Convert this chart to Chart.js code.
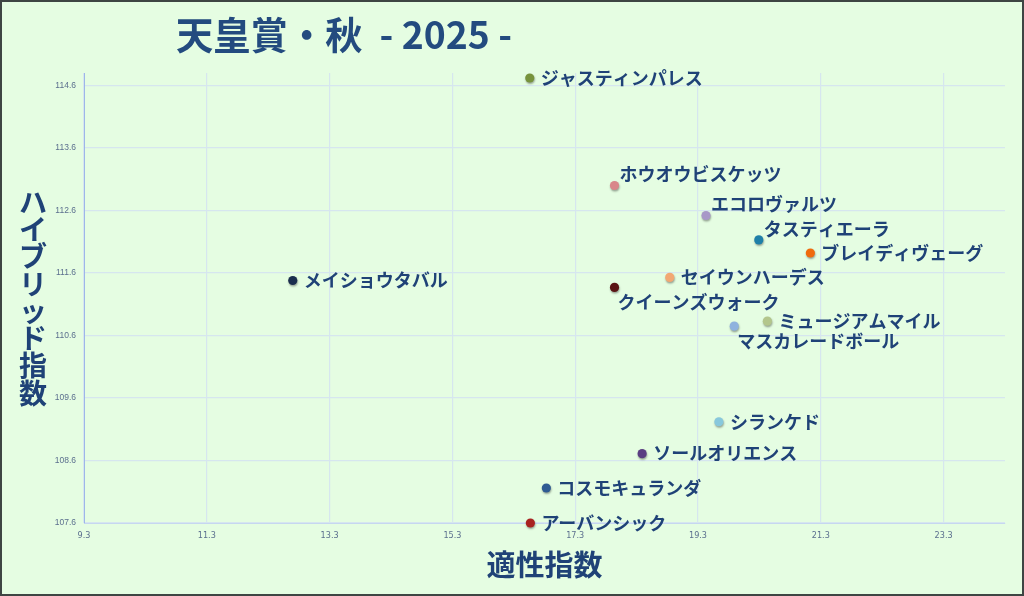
<!DOCTYPE html>
<html>
<head>
<meta charset="utf-8">
<script src="https://cdn.jsdelivr.net/npm/chart.js@4"></script>
<style>
html,body{margin:0;padding:0;background:#E5FDE2;}
#wrap{width:1024px;height:596px;position:relative;}
canvas{display:block;}
</style>
</head>
<body>
<div id="wrap"><canvas id="c" width="1024" height="596"></canvas></div>
<script>
// ---- data ----
const horses = ['ジャスティンパレス','ホウオウビスケッツ','エコロヴァルツ','タスティエーラ','ブレイディヴェーグ','セイウンハーデス','クイーンズウォーク','ミュージアムマイル','マスカレードボール','メイショウタバル','シランケド','ソールオリエンス','コスモキュランダ','アーバンシック'];
const suitabilityIndex = [16.56, 17.94, 19.43, 20.29, 21.13, 18.84, 17.94, 20.43, 19.89, 12.70, 19.64, 18.39, 16.83, 16.57];
const hybridIndex = [114.72, 113.00, 112.52, 112.13, 111.92, 111.53, 111.37, 110.83, 110.75, 111.48, 109.22, 108.71, 108.16, 107.60];
const xTickValues = [9.3, 11.3, 13.3, 15.3, 17.3, 19.3, 21.3, 23.3];
const yTickValues = [107.6, 108.6, 109.6, 110.6, 111.6, 112.6, 113.6, 114.6];
const chartTitle = '天皇賞・秋  - 2025 -';
const xAxisTitle = '適性指数';
const yAxisTitle = 'ハイブリッド指数';

// ---- styles ----
const pointColors = ['#77933C','#D9878A','#A898C8','#1F80A8','#F06A0C','#F2A873','#5A1414','#B3C68C','#8FB2DE','#1A2D4E','#88C8DC','#5A3E82','#2F5B93','#A82220'];
const labelPlacement = {'ホウオウビスケッツ':'above','エコロヴァルツ':'above','タスティエーラ':'above','クイーンズウォーク':'below','マスカレードボール':'below'};
const textColor = '#1F4277';

const points = suitabilityIndex.map((x,i)=>({x:x, y:hybridIndex[i]}));

const decorPlugin = {
  id:'decor',
  beforeDraw(chart){
    const ctx = chart.ctx;
    ctx.save();
    ctx.fillStyle = '#E5FDE2';
    ctx.fillRect(0,0,chart.width,chart.height);
    ctx.restore();
  },
  beforeDatasetsDraw(chart){
    chart.ctx.save();
    chart.ctx.shadowColor = 'rgba(0,0,0,0.35)';
    chart.ctx.shadowBlur = 2;
    chart.ctx.shadowOffsetX = 0.5;
    chart.ctx.shadowOffsetY = 1.5;
  },
  afterDatasetsDraw(chart){
    chart.ctx.restore();
    const ctx = chart.ctx;
    const meta = chart.getDatasetMeta(0);
    ctx.save();
    ctx.font = 'bold 18px "Noto Sans CJK JP", sans-serif';
    ctx.fillStyle = textColor;
    ctx.textBaseline = 'middle';
    ctx.textAlign = 'left';
    meta.data.forEach((el,i)=>{
      const name = horses[i];
      const p = labelPlacement[name] || 'right';
      let x = el.x, y = el.y;
      if (p === 'right') { x += 11; }
      else if (p === 'above') { x += 5; y -= 11; }
      else { x += 3; y += 15; }
      ctx.fillText(name, x, y);
    });
    ctx.restore();
  },
  afterDraw(chart){
    const ctx = chart.ctx;
    ctx.save();
    // title
    ctx.font = 'bold 38px "Noto Sans CJK JP", sans-serif';
    ctx.fillStyle = '#234B7F';
    ctx.textBaseline = 'middle';
    ctx.textAlign = 'left';
    const w = ctx.measureText(chartTitle).width;
    const target = 336;
    ctx.translate(176, 35);
    ctx.scale(target / w, 1);
    ctx.fillText(chartTitle, 0, 0);
    ctx.restore();
    // vertical y-axis title (upright stacked chars)
    ctx.save();
    ctx.font = 'bold 28px "Noto Sans CJK JP", sans-serif';
    ctx.fillStyle = textColor;
    ctx.textAlign = 'center';
    ctx.textBaseline = 'middle';
    const chars = Array.from(yAxisTitle);
    chars.forEach((ch,i)=>{
      ctx.fillText(ch, 33, 202 + i*27.3);
    });
    ctx.restore();
    // outer border
    ctx.save();
    ctx.strokeStyle = '#3E4543';
    ctx.lineWidth = 3;
    ctx.strokeRect(0.5,0.5,chart.width-1,chart.height-1);
    ctx.restore();
  }
};

new Chart(document.getElementById('c'), {
  type:'scatter',
  data:{
    labels: horses,
    datasets:[{
      data: points,
      backgroundColor: pointColors,
      borderWidth: 0,
      pointRadius: 4.6,
      pointHoverRadius: 4.6,
      clip: false
    }]
  },
  options:{
    responsive:false,
    animation:false,
    events:[],
    layout:{padding:{top:73, right:19, left:0, bottom:0}},
    plugins:{legend:{display:false}, tooltip:{enabled:false}, title:{display:false}},
    scales:{
      x:{
        type:'linear', min:9.3, max:24.3,
        afterBuildTicks(scale){ scale.ticks = xTickValues.map(v=>({value:v})); },
        afterFit(scale){ scale.height = 73; },
        ticks:{
          padding:7,
          color:'#5B6F8E',
          font:{family:'"Liberation Sans Narrow","DejaVu Sans Condensed",sans-serif', size:9},
          callback:(v)=>Number(v).toFixed(1),
          maxRotation:0, autoSkip:false
        },
        grid:{color:'#D6E6EF', lineWidth:1.2, drawTicks:false},
        border:{color:'#C6D7F0', width:1},
        title:{display:true, text:xAxisTitle, color:textColor,
          font:{family:'"Noto Sans CJK JP", sans-serif', size:29, weight:'bold'},
          padding:{top:0,bottom:14}}
      },
      y:{
        type:'linear', min:107.6, max:114.8,
        afterBuildTicks(scale){ scale.ticks = yTickValues.map(v=>({value:v})); },
        afterFit(scale){ scale.width = 84; },
        ticks:{
          padding:8,
          color:'#5B6F8E',
          font:{family:'"Liberation Sans","Arial",sans-serif', size:8.5},
          callback:(v)=>Number(v).toFixed(1),
          autoSkip:false
        },
        grid:{color:'#D6E6EF', lineWidth:1.2, drawTicks:false},
        border:{color:'#9DB7E8', width:1}
      }
    }
  },
  plugins:[decorPlugin]
});
</script>
</body>
</html>
